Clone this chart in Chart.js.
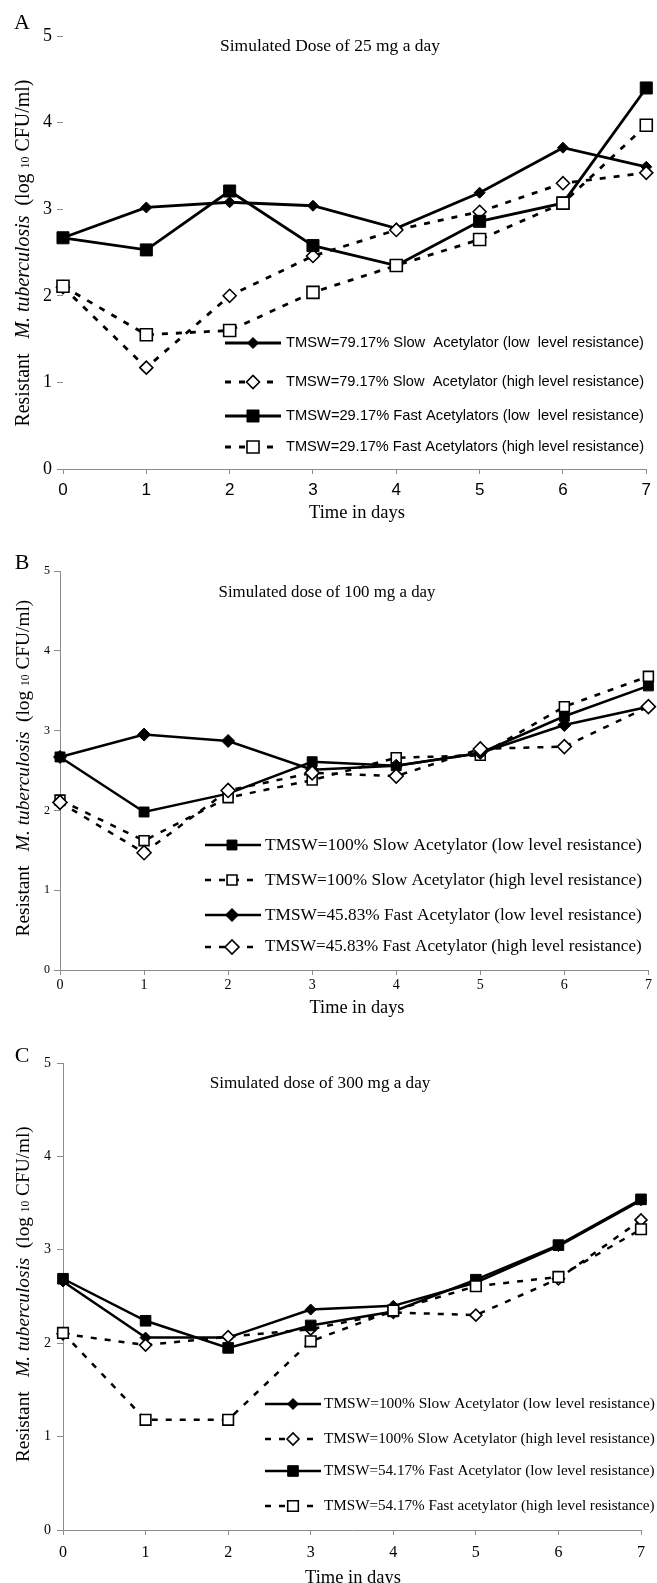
<!DOCTYPE html>
<html><head><meta charset="utf-8">
<script src="https://cdn.jsdelivr.net/npm/chart.js@4/dist/chart.umd.min.js"></script>
<style>
html,body{margin:0;padding:0;background:#fff;}
body{width:657px;height:1583px;position:relative;overflow:hidden;}
canvas{position:absolute;left:0;display:block;}
</style></head><body>
<canvas id="cA" width="657" height="522" style="top:0px"></canvas>
<canvas id="cB" width="657" height="500" style="top:522px"></canvas>
<canvas id="cC" width="657" height="561" style="top:1022px"></canvas>
<script>
// ---------------- DATA ----------------
const days = ['0','1','2','3','4','5','6','7'];
const yTickValues = [0,1,2,3,4,5];
const xAxisTitle = 'Time in days';

// Panel A
const titleA = 'Simulated Dose of 25 mg a day';
const labelsA = [
  'TMSW=79.17% Slow  Acetylator (low  level resistance)',
  'TMSW=79.17% Slow  Acetylator (high level resistance)',
  'TMSW=29.17% Fast Acetylators (low  level resistance)',
  'TMSW=29.17% Fast Acetylators (high level resistance)'
];
const a_slowLow  = [2.67, 3.02, 3.08, 3.04, 2.78, 3.19, 3.71, 3.49];
const a_slowHigh = [2.10, 1.17, 2.00, 2.46, 2.76, 2.97, 3.30, 3.42];
const a_fastLow  = [2.67, 2.53, 3.21, 2.58, 2.35, 2.86, 3.07, 4.40];
const a_fastHigh = [2.11, 1.55, 1.60, 2.04, 2.35, 2.65, 3.07, 3.97];

// Panel B
const titleB = 'Simulated dose of 100 mg a day';
const labelsB = [
  'TMSW=100% Slow Acetylator (low level resistance)',
  'TMSW=100% Slow Acetylator (high level resistance)',
  'TMSW=45.83% Fast Acetylator (low level resistance)',
  'TMSW=45.83% Fast Acetylator (high level resistance)'
];
const b_slowLow  = [2.67, 1.98, 2.21, 2.61, 2.56, 2.72, 3.18, 3.56];
const b_slowHigh = [2.13, 1.62, 2.16, 2.38, 2.66, 2.69, 3.30, 3.68];
const b_fastLow  = [2.67, 2.95, 2.87, 2.51, 2.56, 2.72, 3.07, 3.30];
const b_fastHigh = [2.10, 1.47, 2.25, 2.47, 2.43, 2.77, 2.80, 3.30];

// Panel C
const titleC = 'Simulated dose of 300 mg a day';
const labelsC = [
  'TMSW=100% Slow Acetylator (low level resistance)',
  'TMSW=100% Slow Acetylator (high level resistance)',
  'TMSW=54.17% Fast Acetylator (low level resistance)',
  'TMSW=54.17% Fast acetylator (high level resistance)'
];
const c_slowLow  = [2.66, 2.06, 2.06, 2.36, 2.40, 2.65, 3.04, 3.53];
const c_slowHigh = [2.10, 1.98, 2.07, 2.15, 2.33, 2.30, 2.69, 3.32];
const c_fastLow  = [2.69, 2.24, 1.95, 2.19, 2.34, 2.68, 3.05, 3.54];
const c_fastHigh = [2.11, 1.18, 1.18, 2.02, 2.35, 2.61, 2.71, 3.22];

// ---------------- HELPERS ----------------
const SERIF = '"Liberation Serif", "Times New Roman", serif';
const SANS = '"Liberation Sans", Arial, sans-serif';

function fitSize(ctx, text, style, family, target) {
  ctx.font = `${style} 100px ${family}`;
  return 100 * target / ctx.measureText(text).width;
}
function drawFit(ctx, text, x, y, target, style, family, align) {
  const s = fitSize(ctx, text, style, family, target);
  ctx.font = `${style} ${s}px ${family}`;
  ctx.textAlign = align || 'center';
  ctx.fillText(text, x, y);
}
function drawYTitle(ctx, o) {
  const pieces = [
    {t: 'Resistant', st: '', k: 1},
    {t: '   ', st: '', k: 1},
    {t: 'M. tuberculosis', st: 'italic', k: 1},
    {t: '  (log ', st: '', k: 1},
    {t: '10', st: '', k: 0.6},
    {t: ' CFU/ml)', st: '', k: 1}
  ];
  const measure = (size) => pieces.reduce((acc, p) => {
    ctx.font = `${p.st} ${size * p.k}px ${SERIF}`;
    return acc + ctx.measureText(p.t).width;
  }, 0);
  const size = 100 * o.len / measure(100);
  ctx.save();
  ctx.translate(o.x, o.y);
  ctx.rotate(-Math.PI / 2);
  ctx.textAlign = 'left';
  ctx.textBaseline = 'alphabetic';
  let cx = -o.len / 2;
  const base = size * 0.35;
  pieces.forEach(p => {
    ctx.font = `${p.st} ${size * p.k}px ${SERIF}`;
    ctx.fillText(p.t, cx, base);
    cx += ctx.measureText(p.t).width;
  });
  ctx.restore();
}

const decor = {
  id: 'decor',
  afterDraw(chart, args, o) {
    const ctx = chart.ctx;
    ctx.save();
    ctx.fillStyle = '#000';
    ctx.textBaseline = 'middle';
    ctx.font = `${o.letter.size}px ${SERIF}`;
    ctx.textAlign = 'center';
    ctx.fillText(o.letter.text, o.letter.x, o.letter.y);
    drawFit(ctx, o.subtitle.text, o.subtitle.x, o.subtitle.y, o.subtitle.w, '', SERIF);
    drawFit(ctx, o.xTitle.text, o.xTitle.x, o.xTitle.y, o.xTitle.w, '', SERIF);
    drawYTitle(ctx, o.yTitle);
    const L = o.legend;
    chart.data.datasets.forEach((ds, i) => {
      const y = L.rows[i];
      ctx.save();
      ctx.strokeStyle = '#000';
      ctx.lineWidth = ds.borderWidth;
      ctx.setLineDash(ds.borderDash || []);
      ctx.beginPath();
      ctx.moveTo(L.x0, y); ctx.lineTo(L.x1, y);
      ctx.stroke();
      ctx.setLineDash([]);
      ctx.fillStyle = ds.pointBackgroundColor;
      ctx.strokeStyle = '#000';
      ctx.lineWidth = ds.pointBorderWidth;
      Chart.helpers.drawPoint(ctx, {pointStyle: ds.pointStyle, radius: ds.pointRadius, rotation: 0, borderWidth: ds.pointBorderWidth}, L.xm, y);
      ctx.restore();
      ctx.fillStyle = '#000';
      ctx.textBaseline = 'middle';
      if (L.mode === 'squeeze') {
        ctx.font = `${L.size}px ${L.family}`;
        ctx.textAlign = 'left';
        ctx.fillText(ds.label, L.tx, y, L.tw);
      } else {
        drawFit(ctx, ds.label, L.tx, y, L.tw, '', L.family, 'left');
      }
    });
    ctx.restore();
  }
};

function series(label, data, st, idx) {
  return {
    label, data, order: -idx,
    borderColor: '#000', backgroundColor: '#000',
    borderWidth: st.lw, borderDash: st.dash || [],
    pointStyle: st.shape, pointRadius: st.r, pointHoverRadius: st.r,
    pointBackgroundColor: st.filled ? '#000' : '#fff',
    pointBorderColor: '#000', pointBorderWidth: st.filled ? 1 : 1.6,
    tension: 0, fill: false
  };
}

function makeChart(id, H, area, fonts, datasets, deco, yBorder) {
  new Chart(document.getElementById(id), {
    type: 'line',
    data: {labels: days, datasets},
    options: {
      responsive: false, animation: false, devicePixelRatio: 1,
      layout: {padding: {left: 0, top: area.t, right: 657 - area.r, bottom: 0}},
      plugins: {legend: {display: false}, tooltip: {enabled: false}, decor: deco},
      scales: {
        x: {
          type: 'category', offset: false,
          ticks: {font: fonts.x, color: '#000', padding: fonts.xPad, maxRotation: 0, autoSkip: false},
          grid: {drawOnChartArea: false, drawTicks: true, tickLength: 5, color: '#8c8c8c'},
          border: {display: true, color: '#8c8c8c', width: 1},
          afterFit: s => { s.height = H - area.b; }
        },
        y: {
          type: 'linear', min: 0, max: 5,
          afterBuildTicks: s => { s.ticks = yTickValues.map(v => ({value: v})); },
          ticks: {font: fonts.y, color: '#000', padding: fonts.yPad},
          grid: {drawOnChartArea: false, drawTicks: true, tickLength: 6, color: '#8c8c8c'},
          border: {display: yBorder, color: '#8c8c8c', width: 1},
          afterFit: s => { s.width = area.l; }
        }
      }
    },
    plugins: [decor]
  });
}

// ---------------- PANEL A ----------------
const dash = [6, 8];
makeChart('cA', 522, {l: 63, t: 36, r: 650, b: 469},
  {x: {family: SANS, size: 17}, y: {family: SERIF, size: 18}, xPad: 6, yPad: 5},
  [
    series(labelsA[0], a_slowLow,  {lw: 2.8, shape: 'rectRot', r: 5.5, filled: true}, 0),
    series(labelsA[1], a_slowHigh, {lw: 2.8, dash, shape: 'rectRot', r: 6.5, filled: false}, 1),
    series(labelsA[2], a_fastLow,  {lw: 2.8, shape: 'rect', r: 8.5, filled: true}, 2),
    series(labelsA[3], a_fastHigh, {lw: 2.8, dash, shape: 'rect', r: 8.5, filled: false}, 3)
  ],
  {
    letter: {text: 'A', x: 22, y: 23, size: 22},
    subtitle: {text: titleA, x: 330, y: 46, w: 220},
    xTitle: {text: xAxisTitle, x: 357, y: 513, w: 96},
    yTitle: {x: 22, y: 253, len: 347},
    legend: {x0: 225, x1: 281, xm: 253, tx: 286, tw: 358, rows: [343, 382, 416, 447], family: SANS, size: 15, mode: 'squeeze'}
  }, false);

// ---------------- PANEL B ----------------
makeChart('cB', 500, {l: 60, t: 49, r: 650, b: 448},
  {x: {family: SERIF, size: 14}, y: {family: SERIF, size: 12}, xPad: 2, yPad: 4},
  [
    series(labelsB[0], b_slowLow,  {lw: 2.5, shape: 'rect', r: 7, filled: true}, 0),
    series(labelsB[1], b_slowHigh, {lw: 2.5, dash, shape: 'rect', r: 7, filled: false}, 1),
    series(labelsB[2], b_fastLow,  {lw: 2.5, shape: 'rectRot', r: 6.5, filled: true}, 2),
    series(labelsB[3], b_fastHigh, {lw: 2.5, dash, shape: 'rectRot', r: 7, filled: false}, 3)
  ],
  {
    letter: {text: 'B', x: 22, y: 41, size: 22},
    subtitle: {text: titleB, x: 327, y: 71, w: 217},
    xTitle: {text: xAxisTitle, x: 357, y: 486, w: 95},
    yTitle: {x: 22, y: 246, len: 337},
    legend: {x0: 205, x1: 261, xm: 232, tx: 265, tw: 377, rows: [323, 358, 393, 425], family: SERIF, mode: 'fit'}
  }, true);

// ---------------- PANEL C ----------------
makeChart('cC', 561, {l: 63, t: 41, r: 641, b: 508},
  {x: {family: SERIF, size: 16}, y: {family: SERIF, size: 14}, xPad: 8, yPad: 6},
  [
    series(labelsC[0], c_slowLow,  {lw: 2.5, shape: 'rectRot', r: 5.5, filled: true}, 0),
    series(labelsC[1], c_slowHigh, {lw: 2.5, dash, shape: 'rectRot', r: 6, filled: false}, 1),
    series(labelsC[2], c_fastLow,  {lw: 2.5, shape: 'rect', r: 7.5, filled: true}, 2),
    series(labelsC[3], c_fastHigh, {lw: 2.5, dash, shape: 'rect', r: 7.5, filled: false}, 3)
  ],
  {
    letter: {text: 'C', x: 22, y: 34, size: 22},
    subtitle: {text: titleC, x: 320, y: 61, w: 221},
    xTitle: {text: xAxisTitle, x: 353, y: 556, w: 96},
    yTitle: {x: 22, y: 272, len: 336},
    legend: {x0: 265, x1: 321, xm: 293, tx: 324, tw: 331, rows: [382, 417, 449, 484], family: SERIF, mode: 'fit'}
  }, true);
</script>
</body></html>
